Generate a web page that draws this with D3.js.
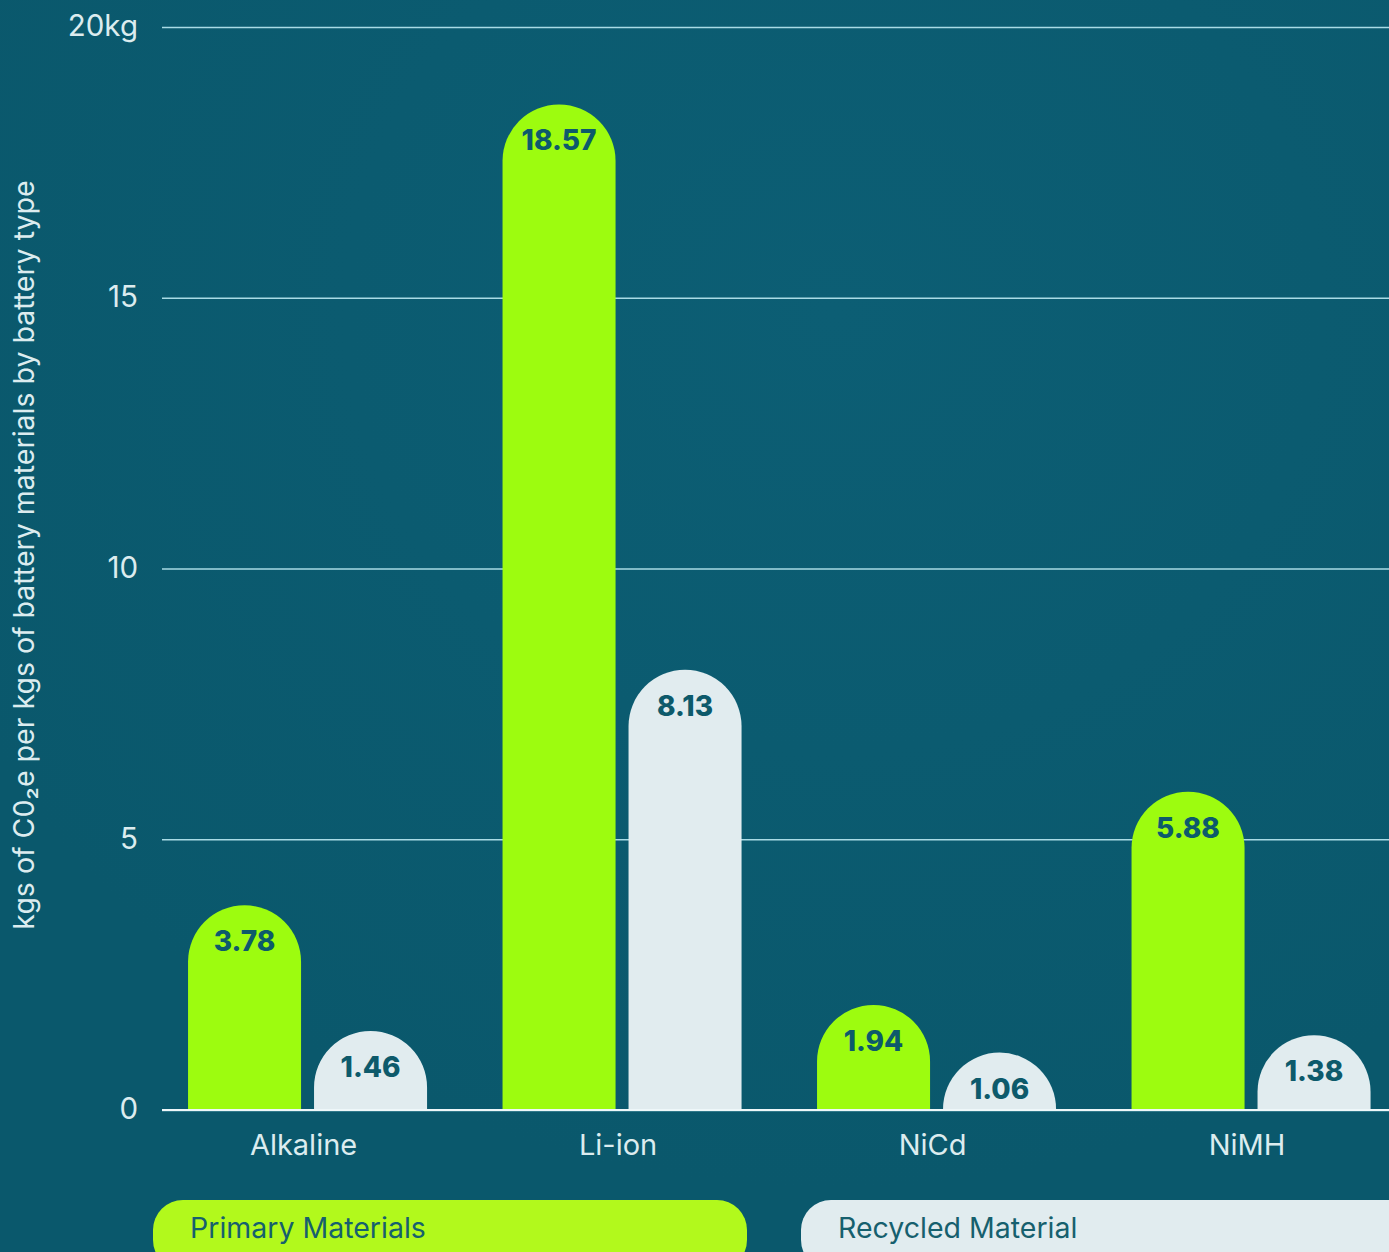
<!DOCTYPE html>
<html>
<head>
<meta charset="utf-8">
<script src="https://cdn.jsdelivr.net/npm/d3@7"></script>
<style>
  html, body { margin: 0; padding: 0; background: #0a5a6e; overflow: hidden; }
  svg { display: block; }
</style>
</head>
<body>
<svg id="chart" width="1389" height="1252"></svg>
<script>
// Battery types and emissions per kg of battery materials
const categories = ["Alkaline", "Li-ion", "NiCd", "NiMH"];
const seriesNames = ["Primary Materials", "Recycled Material"];
const primaryValues = [3.78, 18.57, 1.94, 5.88];
const recycledValues = [1.46, 8.13, 1.06, 1.38];
const tickValues = [0, 5, 10, 15, 20];
const tickLabels = ["0", "5", "10", "15", "20kg"];
const yTitle = "kgs of C0\u2082e per kgs of battery materials by battery type";

const W = 1389, H = 1252;
const colors = { primary: "#9dfc0f", recycled: "#e1ecef", label: "#0d5a6b",
                 grid: "#a9dbe5", text: "#dcecef", bg: "#0a5a6e" };
const legendColors = ["#b2f91c", "#e1ecef"];
const font = "Inter, 'Open Sans', sans-serif";

const svg = d3.select("#chart");
const defs = svg.append("defs");

// soft background glow
const bgGrad = defs.append("radialGradient").attr("id", "glow")
  .attr("cx", "0.6").attr("cy", "0.25").attr("r", "0.7");
bgGrad.append("stop").attr("offset", "0").attr("stop-color", "#0c5e74");
bgGrad.append("stop").attr("offset", "1").attr("stop-color", "#0a586c");
svg.append("rect").attr("width", W).attr("height", H).attr("fill", "url(#glow)");

const y = d3.scaleLinear().domain([0, 20]).range([1110, 27]);
const x = d3.scaleBand().domain(categories).range([150.3, 1408.3])
  .paddingInner(0.24).paddingOuter(0.12);
const xs = d3.scaleBand().domain(["primary", "recycled"])
  .range([0, x.bandwidth()]).paddingInner(0.103);

// gridlines + tick labels
const gridX0 = 162;
const axis = d3.axisLeft(y).tickValues(tickValues)
  .tickSize(-(W - gridX0)).tickFormat((d, i) => tickLabels[i]);
const gAxis = svg.append("g").attr("transform", `translate(${gridX0},0)`).call(axis);
gAxis.select(".domain").remove();
gAxis.selectAll(".tick line").attr("stroke", colors.grid).attr("stroke-width", 1.5);
gAxis.selectAll(".tick text")
  .attr("x", -24).attr("dy", "0.3em")
  .attr("fill", colors.text)
  .style("font-family", font)
  .style("font-size", "29.5px");

// y-axis title
svg.append("text")
  .attr("transform", `translate(34,555) rotate(-90)`)
  .attr("text-anchor", "middle")
  .attr("fill", colors.text)
  .style("font-family", font)
  .style("font-size", "28.5px")
  .text(yTitle);

// bar data
const bars = [];
categories.forEach((c, i) => {
  bars.push({ cat: c, key: "primary", value: primaryValues[i] });
  bars.push({ cat: c, key: "recycled", value: recycledValues[i] });
});

const bw = xs.bandwidth();
const r = bw / 2;
function pillPath(d) {
  const x0 = x(d.cat) + xs(d.key);
  const yb = y(0), yt = y(d.value);
  const rr = Math.min(r, yb - yt);
  return `M${x0},${yb} L${x0},${yt + rr} A${r},${rr} 0 0 1 ${x0 + bw},${yt + rr} L${x0 + bw},${yb} Z`;
}

const gBars = svg.append("g");
gBars.selectAll("path").data(bars).join("path")
  .attr("d", pillPath)
  .attr("fill", d => d.key === "primary" ? colors.primary : colors.recycled);

gBars.selectAll("text").data(bars).join("text")
  .attr("x", d => x(d.cat) + xs(d.key) + bw / 2)
  .attr("y", d => y(d.value) + 46)
  .attr("text-anchor", "middle")
  .attr("fill", colors.label)
  .style("font-family", font)
  .style("font-weight", "800")
  .style("font-size", "28px")
  .text(d => d.value.toFixed(2));

// baseline
svg.append("line")
  .attr("x1", gridX0).attr("x2", W)
  .attr("y1", y(0)).attr("y2", y(0))
  .attr("stroke", "#eef7f9").attr("stroke-width", 2);

// category labels
svg.append("g").selectAll("text").data(categories).join("text")
  .attr("x", d => x(d) + x.bandwidth() / 2 - 4)
  .attr("y", 1155)
  .attr("text-anchor", "middle")
  .attr("fill", colors.text)
  .style("font-family", font)
  .style("font-size", "29px")
  .text(d => d);

// legend pills
const legendX = [153, 801];
const legendW = [594, 640];
const gLeg = svg.append("g");
seriesNames.forEach((name, i) => {
  gLeg.append("rect")
    .attr("x", legendX[i]).attr("y", 1200)
    .attr("width", legendW[i]).attr("height", 70)
    .attr("rx", 30).attr("ry", 30)
    .attr("fill", legendColors[i]);
  gLeg.append("text")
    .attr("x", legendX[i] + 37).attr("y", 1238)
    .attr("fill", "#16606e")
    .style("font-family", font)
    .style("font-size", "28.5px")
    .text(name);
});
</script>
</body>
</html>
